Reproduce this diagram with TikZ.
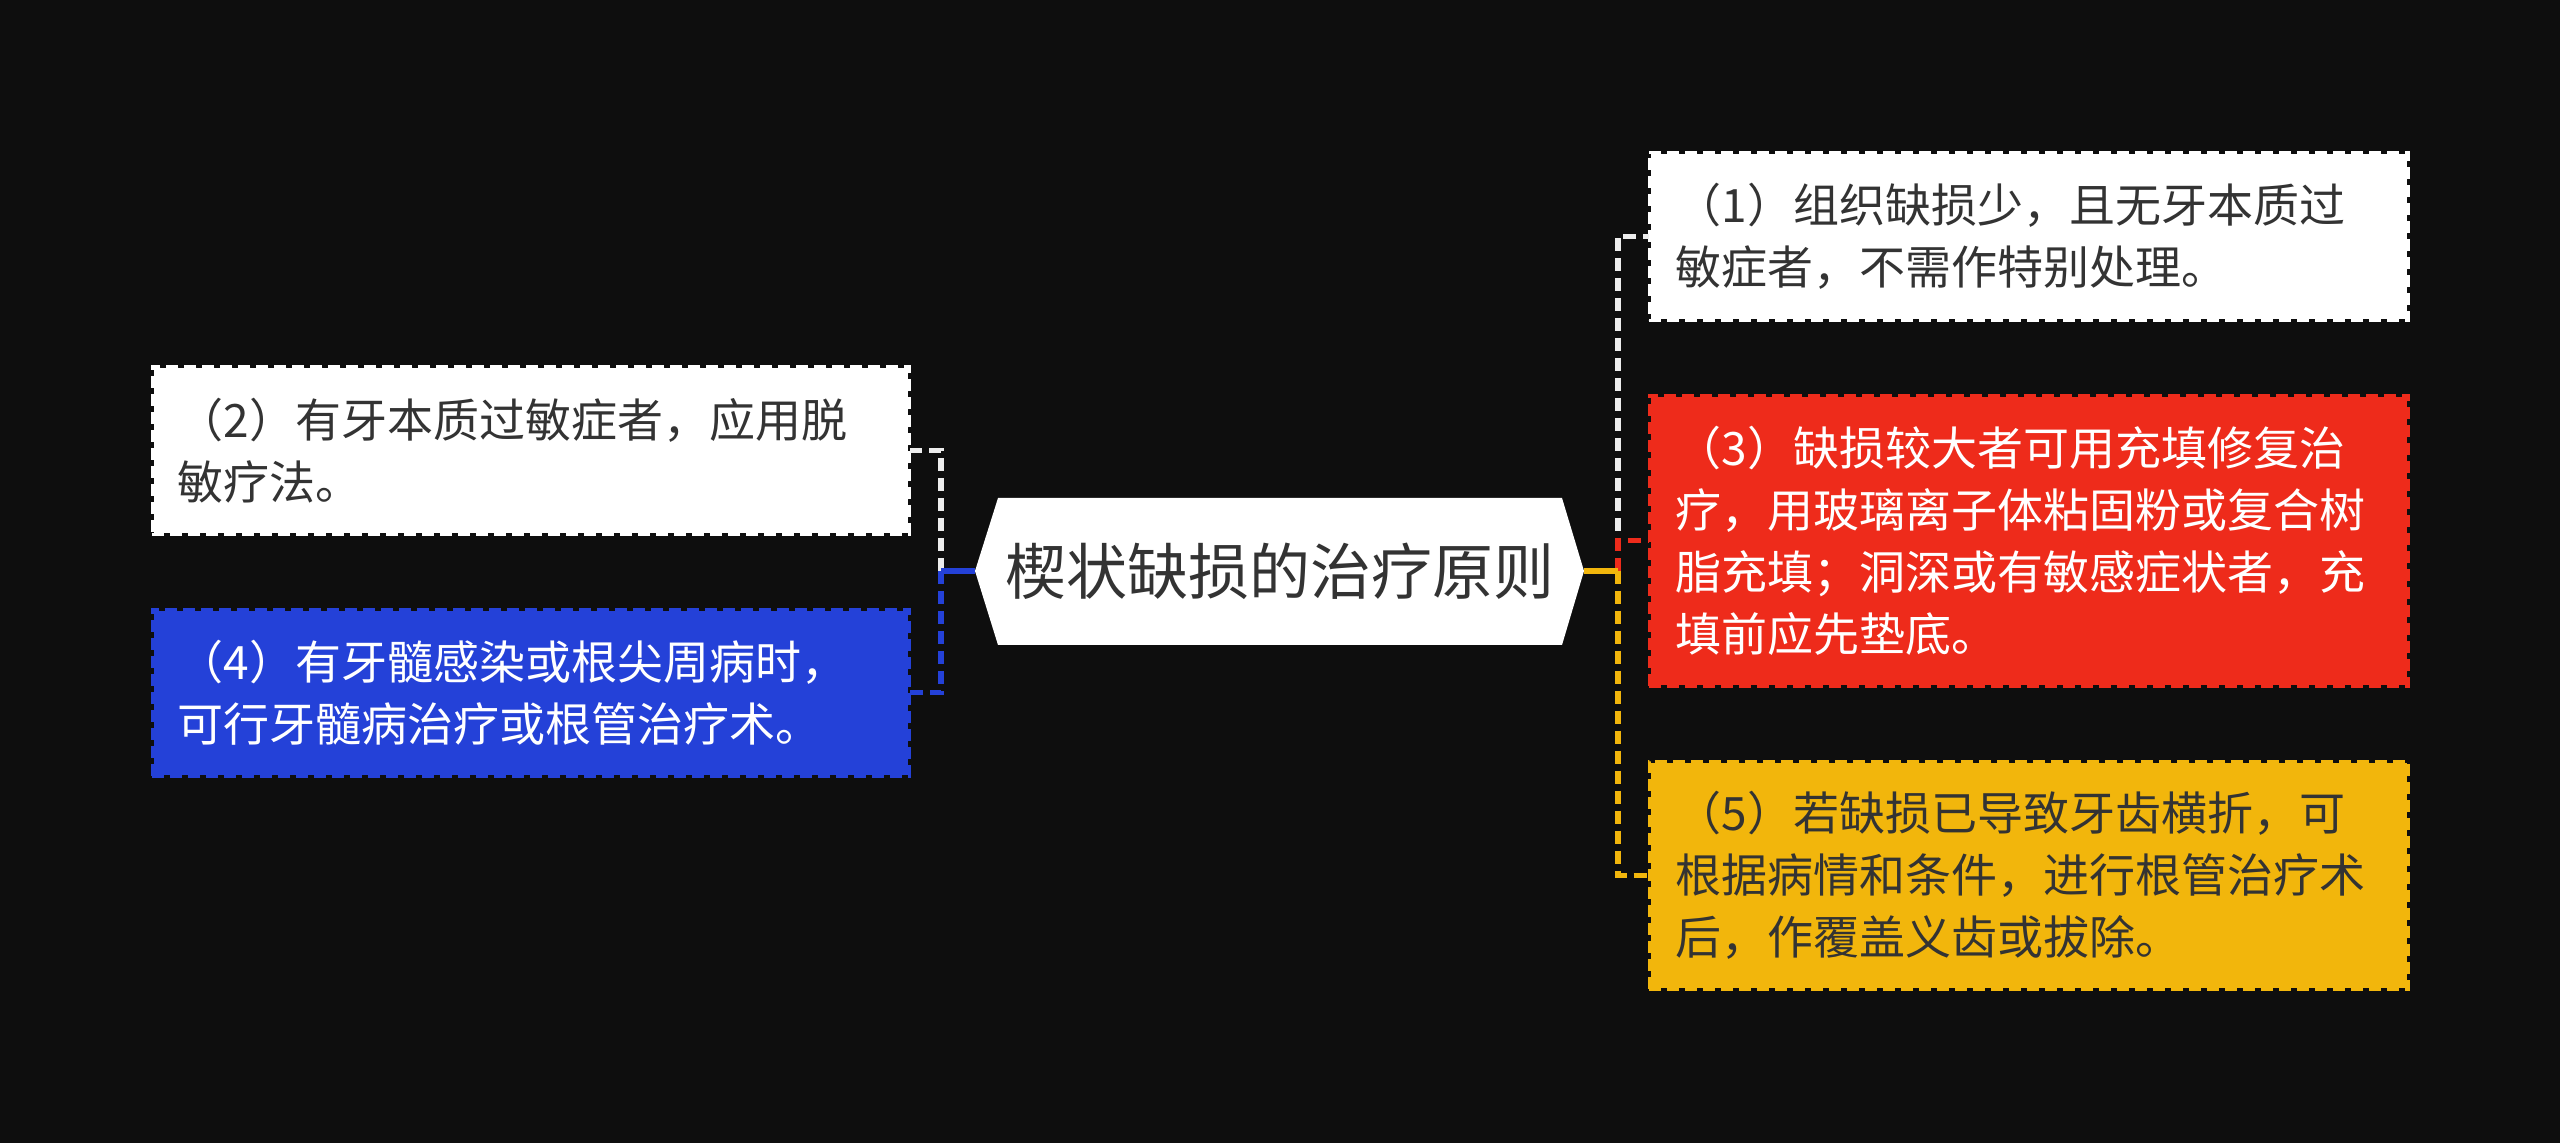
\documentclass[tikz,border=0pt]{standalone}
\usepackage{fontspec}
\newfontfamily\cjk{Noto Sans CJK SC}
\definecolor{bg}{HTML}{0E0E0E}
\definecolor{cred}{HTML}{EE2B1B}
\definecolor{cblue}{HTML}{2441D8}
\definecolor{cyel}{HTML}{F2B60C}
\definecolor{ctext}{HTML}{333333}
\definecolor{cwline}{HTML}{EDEDED}
\begin{document}
\begin{tikzpicture}[x=0.5pt,y=-0.5pt,
  box/.style={anchor=north west, inner xsep=12.5pt, inner ysep=0pt, text width=353pt, align=left,
    font=\cjk\fontsize{23pt}{31pt}\selectfont, minimum width=379.5pt},
  boxfill/.style={fill=#1, postaction={draw=bg, line width=1.5pt},
    postaction={draw=#1, line width=1.5pt, dash pattern=on 6pt off 3pt}},
  conn/.style={line width=2.6pt, dash pattern=on 6.5pt off 3.5pt},
  stub/.style={line width=2.6pt}]
\useasboundingbox (0,0) rectangle (2560,1143);
\fill[bg] (0,0) rectangle (2560,1143);

% root
\fill[white] (975,571) -- (998,498) -- (1562,498) -- (1584,571) -- (1562,645) -- (998,645) -- cycle;
\node[font=\cjk\fontsize{30.5pt}{36pt}\selectfont, text=ctext, inner sep=0pt] (root) at (1279.5,571) {楔状缺损的治疗原则};
\coordinate (rootL) at (975,571);
\coordinate (rootR) at (1584,571);
\coordinate (jL) at (941,571);
\coordinate (jR) at (1618,571);

% boxes
\node[box, boxfill=white, text=ctext, minimum height=84pt] (b1) at (1649,152)
  {（1）组织缺损少，且无牙本质过\\敏症者，不需作特别处理。};
\node[box, boxfill=cred, text=white, minimum height=145.5pt] (b3) at (1649,395)
  {（3）缺损较大者可用充填修复治\\疗，用玻璃离子体粘固粉或复合树\\脂充填；洞深或有敏感症状者，充\\填前应先垫底。};
\node[box, boxfill=cyel, text=ctext, minimum height=114pt] (b5) at (1649,761)
  {（5）若缺损已导致牙齿横折，可\\根据病情和条件，进行根管治疗术\\后，作覆盖义齿或拔除。};
\node[box, boxfill=white, text=ctext, minimum height=84pt, minimum width=378.5pt] (b2) at (152,366)
  {（2）有牙本质过敏症者，应用脱\\敏疗法。};
\node[box, boxfill=cblue, text=white, minimum height=83.5pt, minimum width=378.5pt] (b4) at (152,609)
  {（4）有牙髓感染或根尖周病时，\\可行牙髓病治疗或根管治疗术。};

% connectors
\draw[conn, cwline] (jR) |- (b1.west);
\draw[conn, cred] (jR) |- (b3.west);
\draw[conn, cyel] (jR) |- (b5.west);
\draw[stub, cyel] (rootR) -- (jR);
\draw[conn, cwline] (jL) |- (b2.east);
\draw[conn, cblue] (jL) |- (b4.east);
\draw[stub, cblue] (rootL) -- (jL);
\end{tikzpicture}
\end{document}
